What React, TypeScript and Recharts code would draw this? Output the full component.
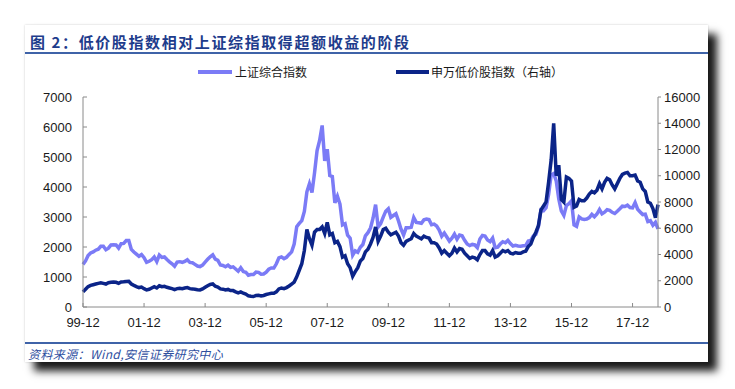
import { Line, LineChart, XAxis, YAxis } from "recharts";

// monthly points, Dec 1999 .. Oct 2018
const SH_INDEX = [
  1420,
  1535, 1714, 1800, 1836, 1894, 1928, 2023, 2023, 1910, 1961, 2070, 2073,
  2066, 1960, 2112, 2119, 2214, 2218, 1920, 1834, 1761, 1690, 1748, 1646,
  1491, 1524, 1580, 1667, 1515, 1732, 1652, 1669, 1581, 1507, 1442, 1358,
  1499, 1511, 1490, 1521, 1576, 1487, 1477, 1421, 1367, 1349, 1397, 1497,
  1590, 1675, 1741, 1595, 1555, 1400, 1386, 1342, 1396, 1320, 1340, 1266,
  1191, 1306, 1181, 1159, 1060, 1080, 1083, 1162, 1155, 1092, 1099, 1161,
  1258, 1299, 1298, 1440, 1641, 1672, 1612, 1658, 1752, 1837, 2099, 2675,
  2786, 2881, 3183, 3841, 4109, 3820, 4471, 5218, 5552, 6050, 4871, 5262,
  4383, 4348, 3472, 3693, 3433, 2736, 2775, 2397, 2293, 1729, 1871, 1821,
  1991, 2082, 2373, 2477, 2633, 2959, 3412, 2668, 2779, 2996, 3195, 3277,
  2989, 3051, 3110, 2871, 2592, 2398, 2638, 2638, 2656, 2979, 2820, 2808,
  2791, 2905, 2928, 2912, 2743, 2762, 2701, 2567, 2359, 2468, 2333, 2199,
  2292, 2428, 2262, 2396, 2372, 2225, 2103, 2047, 2086, 2069, 1980, 2269,
  2385, 2365, 2236, 2178, 2300, 1979, 1994, 2098, 2175, 2141, 2220, 2116,
  2033, 2056, 2033, 2026, 2039, 2048, 2201, 2217, 2364, 2420, 2683, 3235,
  3210, 3310, 3748, 4400, 4450, 4200, 3600, 3206, 3053, 3383, 3445, 3539,
  2738, 2688, 3004, 2938, 2917, 2930, 2979, 3085, 3005, 3100, 3250, 3104,
  3159, 3242, 3223, 3155, 3117, 3192, 3273, 3361, 3349, 3393, 3317, 3307,
  3481, 3259, 3169, 3082, 3095, 2847, 2876, 2725, 2821, 2603,
];

const LOW_PRICE = [
  1150,
  1350, 1550, 1650, 1700, 1750, 1800, 1850, 1800, 1750, 1850, 1880, 1900,
  1880, 1800, 1900, 1920, 1950, 1960, 1750, 1650, 1560, 1480, 1520, 1400,
  1300, 1350, 1450, 1550, 1450, 1620, 1550, 1580, 1500, 1450, 1400, 1330,
  1400, 1420, 1400, 1450, 1480, 1400, 1380, 1350, 1320, 1300, 1380, 1500,
  1620, 1720, 1760, 1580, 1520, 1380, 1360, 1300, 1340, 1250, 1250, 1150,
  1080, 1150, 1050, 980, 850, 820, 800, 880, 900, 850, 880, 950,
  1000, 1040, 1050, 1150, 1380, 1450, 1400, 1480, 1600, 1750, 1900, 2300,
  2800, 3300, 4300, 5900, 5200, 4700, 5700, 5900, 5900, 6100, 5600, 6450,
  5500, 5600, 4900, 5000, 4600, 3800, 3900, 3300, 3000, 2350, 2700, 3000,
  3500, 3700, 4200, 4400, 4800, 5300, 6100, 5000, 5400, 5900, 6000, 5700,
  5500, 5600, 5700, 5400, 4900, 4700, 5000, 5100, 5200, 5600, 5400, 5300,
  5200, 5400, 5300, 5250, 4900, 4900, 4800, 4500, 4100, 4300, 4100, 3900,
  4100, 4500, 4200, 4450, 4400, 4100, 3900, 3700, 3800, 3750, 3600, 4000,
  4300, 4300, 4050, 3950, 4300, 3800, 3900, 4100, 4300, 4200, 4300, 4100,
  4050, 4150, 4100, 4100, 4200, 4250, 4600, 4800, 5300, 5700, 6200, 7400,
  7700, 8000, 9500, 11200, 14000, 10000, 10800, 8200, 8000, 9900, 9800, 9600,
  7600, 7700, 8200, 8100, 8100, 8300, 8600, 8800, 8700, 8900, 9400, 9000,
  9500, 9800, 9700, 9300, 9000, 9400, 9800, 10100, 10200, 10250, 10000, 10000,
  10050, 9600, 9500, 9000, 8800, 8000, 7900, 7500, 6800, 7800,
];

const TICK_LABELS = ["99-12", "01-12", "03-12", "05-12", "07-12", "09-12", "11-12", "13-12", "15-12", "17-12"];
const LEFT_TICKS = [0, 1000, 2000, 3000, 4000, 5000, 6000, 7000];
const RIGHT_TICKS = [0, 2000, 4000, 6000, 8000, 10000, 12000, 14000, 16000];

const LIGHT = "#7b7bf6";
const DARK = "#0b2488";
const AXIS = "#8a8a8a";
const FONT = "'Liberation Sans', Arial, sans-serif";
const CJK = "'Noto Sans CJK SC', sans-serif";

export default function App() {
  const rows = SH_INDEX.map((v, i) => ({ m: i, sh: v, low: LOW_PRICE[i] }));
  const tick = { fill: "#1a1a1a", fontSize: 13, fontFamily: FONT };

  return (
    <div style={{ position: "absolute", left: 0, top: 0, width: 735, height: 389, background: "#fff", overflow: "hidden" }}>
      <div
        style={{
          position: "absolute",
          left: 25,
          top: 25,
          width: 683,
          height: 337,
          background: "#fff",
          boxShadow: "9px 9px 8px rgba(0,0,0,0.9), 0 0 2px rgba(0,0,0,0.2)",
        }}
      />
      <div
        style={{
          position: "absolute",
          left: 30,
          top: 32,
          fontFamily: CJK,
          fontWeight: 700,
          fontSize: 15,
          letterSpacing: 1.6,
          color: "#1e3c8c",
          whiteSpace: "nowrap",
          lineHeight: "20px",
        }}
      >
        图 2：低价股指数相对上证综指取得超额收益的阶段
      </div>
      <div style={{ position: "absolute", left: 25, top: 52, width: 683, height: 2, background: "#3f63a8" }} />
      <div style={{ position: "absolute", left: 25, top: 342, width: 683, height: 1.5, background: "#3f63a8" }} />
      <div
        style={{
          position: "absolute",
          left: 28,
          top: 345,
          fontFamily: CJK,
          fontStyle: "italic",
          fontSize: 12,
          letterSpacing: 0.4,
          color: "#2f4f9f",
          whiteSpace: "nowrap",
          lineHeight: "18px",
        }}
      >
        资料来源：Wind,安信证券研究中心
      </div>

      {/* legend */}
      <div style={{ position: "absolute", left: 198, top: 70, width: 34, height: 4, background: LIGHT }} />
      <div style={{ position: "absolute", left: 235, top: 63, fontFamily: CJK, fontSize: 12, color: "#1a1a1a", lineHeight: "18px" }}>
        上证综合指数
      </div>
      <div style={{ position: "absolute", left: 396, top: 70, width: 33, height: 4, background: DARK }} />
      <div style={{ position: "absolute", left: 431, top: 63, fontFamily: CJK, fontSize: 12, color: "#1a1a1a", lineHeight: "18px" }}>
        申万低价股指数（右轴）
      </div>

      <div style={{ position: "absolute", left: 0, top: 0 }}>
        <LineChart width={735} height={389} data={rows} margin={{ top: 97, right: 32, bottom: 57, left: 43 }}>
          <XAxis
            dataKey="m"
            type="number"
            domain={[0, 226]}
            ticks={TICK_LABELS.map((_, i) => i * 24)}
            tickFormatter={(v: number) => TICK_LABELS[v / 24]}
            stroke={AXIS}
            tickSize={-4}
            tickMargin={15}
            height={25}
            tick={tick}
            interval={0}
          />
          <YAxis
            yAxisId="l"
            domain={[0, 7000]}
            ticks={LEFT_TICKS}
            stroke={AXIS}
            tickSize={-4}
            tickMargin={15}
            width={40}
            tick={tick}
            interval={0}
          />
          <YAxis
            yAxisId="r"
            orientation="right"
            domain={[0, 16000]}
            ticks={RIGHT_TICKS}
            stroke={AXIS}
            tickSize={3}
            tickMargin={3}
            width={45}
            tick={tick}
            interval={0}
          />
          <Line yAxisId="l" type="linear" dataKey="sh" stroke={LIGHT} strokeWidth={3.5} dot={false} isAnimationActive={false} />
          <Line yAxisId="r" type="linear" dataKey="low" stroke={DARK} strokeWidth={3.5} dot={false} isAnimationActive={false} />
        </LineChart>
      </div>
    </div>
  );
}
